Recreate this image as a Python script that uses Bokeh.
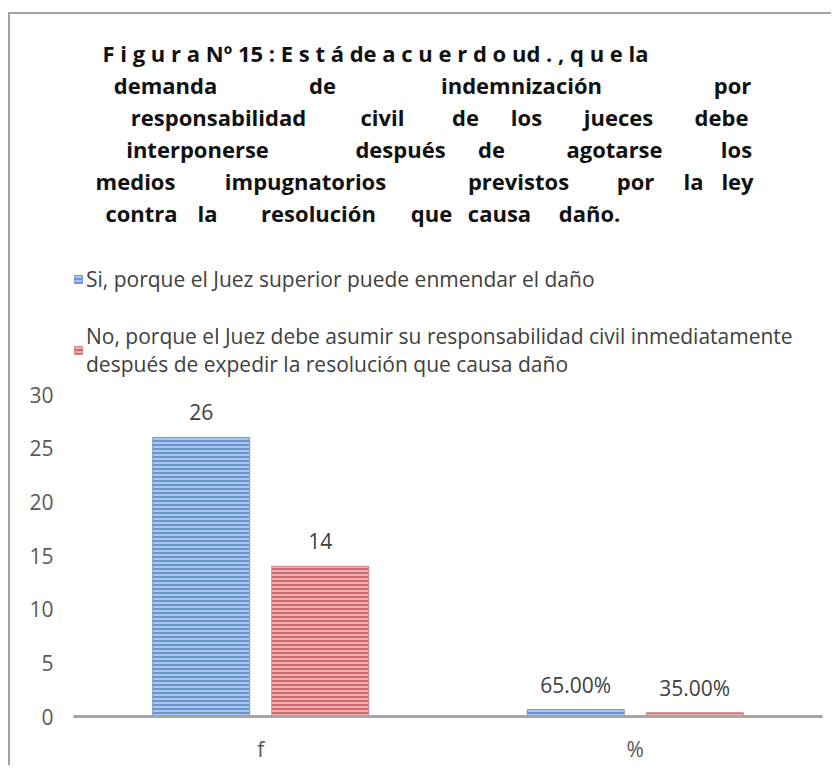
from bokeh.plotting import figure
from bokeh.layouts import column
from bokeh.models import (ColumnDataSource, FactorRange, Range1d, FixedTicker,
                          LabelSet, Legend, LegendItem)
from bokeh.transform import dodge
from bokeh.core.properties import value
from bokeh.embed import file_html
from bokeh.resources import INLINE

# ---------------- data ----------------
categories = ["f", "%"]
si_values = [26, 0.65]
no_values = [14, 0.35]
series_names = [
    "Si, porque el Juez superior puede enmendar el daño",
    "No, porque el Juez debe asumir su responsabilidad civil inmediatamente\n"
    "después de expedir la resolución que causa daño",
]
y_ticks = [0, 5, 10, 15, 20, 25, 30]

title_lines = [
    ["F i g u r a Nº 15 : E s t á de a c u e r d o ud . , q u e la"],
    ["demanda", "de", "indemnización", "por"],
    ["responsabilidad", "civil", "de", "los", "jueces", "debe"],
    ["interponerse", "después", "de", "agotarse", "los"],
    ["medios", "impugnatorios", "previstos", "por", "la", "ley"],
    ["contra", "la", "resolución", "que", "causa", "daño."],
]

# ---------------- layout (page pixels) ----------------
FONT = "Open Sans"
W = 821
TOP_H = 366
BOT_H = 385
Y0 = 14                   # page y of the canvases' top
FRAME_L, FRAME_R = 73, 822  # page x of the plot area (shared by both figures)
title_word_cx = [
    [102],
    [165, 322, 521, 732],
    [218, 382, 465, 526, 618, 721],
    [197, 400, 491, 614, 736],
    [135, 305, 518, 635, 693, 737],
    [141, 207, 318, 431, 499, 589],
]
title_baselines = [52, 84, 116, 148, 180, 212]

BLUE = dict(fill_color="#6b93cf", line_color="#7a9acb", line_width=1,
            hatch_pattern="horizontal_line", hatch_color="#a9c6ec",
            hatch_scale=4, hatch_weight=2)
RED = dict(fill_color="#d1686b", line_color="#c98a8b", line_width=1,
           hatch_pattern="horizontal_line", hatch_color="#efb0b0",
           hatch_scale=4, hatch_weight=2)


def label_text(cat, v):
    return f"{v:.2%}" if cat == "%" else f"{v:g}"


src = ColumnDataSource(dict(
    cat=categories,
    si=si_values,
    no=no_values,
    si_lab=[label_text(c, v) for c, v in zip(categories, si_values)],
    no_lab=[label_text(c, v) for c, v in zip(categories, no_values)],
))

# ---------------- top: title + legend ----------------
top = figure(
    width=W, height=TOP_H,
    x_range=Range1d(FRAME_L, FRAME_R), y_range=Range1d(Y0 + TOP_H, Y0),
    x_axis_location=None, y_axis_location=None,
    output_backend="svg", toolbar_location=None,
    min_border_left=63, min_border_right=9, min_border_top=0, min_border_bottom=0,
)
top.grid.visible = False
top.outline_line_color = None
# a range far away from the bars' values, so the legend's swatch bars stay out of view
top.extra_y_ranges = {"hidden": Range1d(1000, 2000)}

tx, ty, tt, ta = [], [], [], []
for line, cxs, base in zip(title_lines, title_word_cx, title_baselines):
    for w, cx in zip(line, cxs):
        tx.append(cx)
        ty.append(base)
        tt.append(w)
        ta.append("left" if len(line) == 1 else "center")
tsrc = ColumnDataSource(dict(x=tx, y=ty, text=tt, align=ta))
top.text(x="x", y="y", text="text", source=tsrc, text_align="align",
         text_baseline="alphabetic", text_font=value(FONT), text_font_style="bold",
         text_font_size="22px", text_color="#111111")

lg_si = top.vbar(x=400, top="si", width=1, source=src, y_range_name="hidden", **BLUE)
lg_no = top.vbar(x=400, top="no", width=1, source=src, y_range_name="hidden", **RED)
legend = Legend(
    items=[LegendItem(label=series_names[0], renderers=[lg_si]),
           LegendItem(label=series_names[1], renderers=[lg_no])],
    location=(0, 2),
    orientation="vertical", padding=0, margin=0, spacing=29,
    glyph_width=10, glyph_height=10, label_standoff=3,
    border_line_color=None, background_fill_alpha=0,
    label_text_font=FONT, label_text_font_size="21px", label_text_color="#404040",
)
top.add_layout(legend)

# ---------------- bottom: the bar chart ----------------
p = figure(
    width=W, height=BOT_H,
    x_range=FactorRange(*categories), y_range=Range1d(0, 30),
    output_backend="svg", toolbar_location=None,
    min_border_left=63, min_border_right=9, min_border_top=14, min_border_bottom=47,
)
p.outline_line_color = None
p.xgrid.grid_line_color = None
p.ygrid.grid_line_color = None

BW = 0.259
OFF = 0.159
r_si = p.vbar(x=dodge("cat", -OFF, range=p.x_range), top="si", width=BW, source=src, **BLUE)
r_no = p.vbar(x=dodge("cat", OFF, range=p.x_range), top="no", width=BW, source=src, **RED)

for col, lab, off in (("si", "si_lab", -OFF), ("no", "no_lab", OFF)):
    p.add_layout(LabelSet(
        x=dodge("cat", off, range=p.x_range), y=col, text=lab, source=src,
        y_offset=17, text_align="center", text_baseline="alphabetic",
        text_font=value(FONT), text_font_size="21px", text_color="#404040"))

p.yaxis.ticker = FixedTicker(ticks=y_ticks)
p.yaxis.axis_line_color = None
p.yaxis.major_tick_line_color = None
p.yaxis.minor_tick_line_color = None
p.yaxis.major_label_standoff = 14
p.yaxis.major_label_text_font = FONT
p.yaxis.major_label_text_font_size = "21px"
p.yaxis.major_label_text_color = "#595959"

p.xaxis.axis_line_color = "#a6a6a6"
p.xaxis.axis_line_width = 3
p.xaxis.major_tick_line_color = None
p.xaxis.minor_tick_line_color = None
p.xaxis.major_label_standoff = 12
p.xaxis.major_label_text_font = FONT
p.xaxis.major_label_text_font_size = "21px"
p.xaxis.major_label_text_color = "#595959"

layout = column(top, p, spacing=0, styles={
    "border-top": "2px solid #a3a3a3", "border-left": "2px solid #a3a3a3",
    "margin-top": "12px", "margin-left": "8px"})

open("out.html", "w").write(file_html(layout, INLINE))
